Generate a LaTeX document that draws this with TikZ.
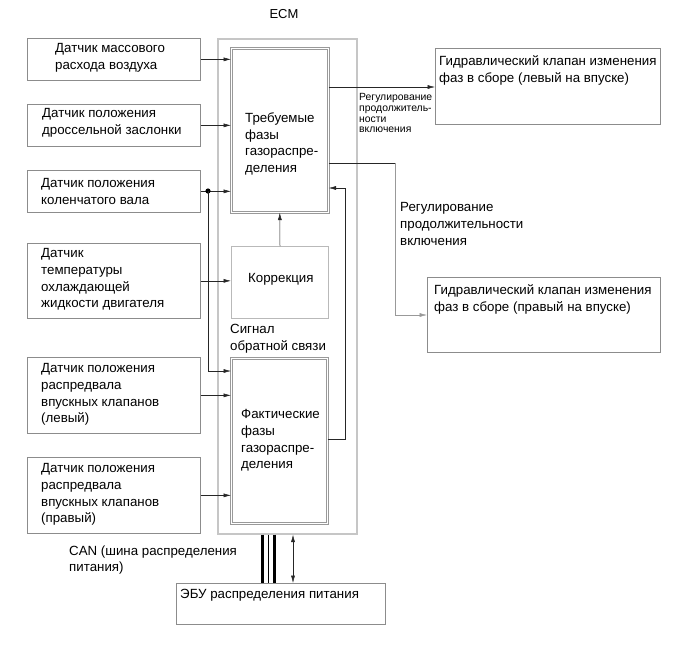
\documentclass[tikz,border=0pt]{standalone}
\usepackage{fontspec}
\setmainfont{Liberation Sans}
\usetikzlibrary{arrows.meta}
\begin{document}
\begin{tikzpicture}[x=1pt,y=-1pt,
  box/.style={draw=gray!90, line width=0.7pt, anchor=north west, inner sep=0pt},
  dbox/.style={draw=gray!80, double=white, double distance=1.3pt, line width=0.6pt, anchor=north west, inner sep=0pt},
  lbox/.style={draw=gray!55, line width=1pt, anchor=north west, inner sep=0pt},
  ecmbox/.style={draw=gray!45, line width=1.6pt, anchor=north west, inner sep=0pt},
  txt/.style={anchor=north west, align=left, inner sep=0pt, font=\fontsize{13.3}{16.6}\selectfont},
  stxt/.style={anchor=north west, align=left, inner sep=0pt, font=\fontsize{10.4}{10.6}\selectfont},
  arr/.style={draw=black!85, line width=0.5pt, -{Latex[length=7.5pt,width=4pt]}},
  ln/.style={draw=black!85, line width=0.5pt},
]
\useasboundingbox (0,0) rectangle (690,659);

% ECM
\node[font=\fontsize{13}{15}\selectfont, inner sep=0pt] (ecmlabel) at (284,14) {ECM};
\node[ecmbox, minimum width=139, minimum height=495] (ecm) at (217,38) {};

% inner blocks
\node[dbox, minimum width=97, minimum height=164] (req) at (231,48) {};
\node[txt] (reqt) at (245,112.5) {Требуемые\\фазы\\газораспре-\\деления};
\node[lbox, minimum width=97, minimum height=72] (corr) at (231,246) {};
\node[txt] (corrt) at (248,273.5) {Коррекция};
\node[txt] (sigt) at (230,324.5) {Сигнал\\обратной связи};
\node[dbox, minimum width=96, minimum height=165] (act) at (231,358) {};
\node[txt] (actt) at (241,409.5) {Фактические\\фазы\\газораспре-\\деления};

% sensors
\node[box, minimum width=173, minimum height=42] (s1) at (27,38) {};
\node[txt] (s1t) at (55,43.5) {Датчик массового\\расхода воздуха};
\node[box, minimum width=173, minimum height=42] (s2) at (27,104) {};
\node[txt] (s2t) at (42,108.5) {Датчик положения\\дроссельной заслонки};
\node[box, minimum width=173, minimum height=42] (s3) at (27,170) {};
\node[txt] (s3t) at (41,178.5) {Датчик положения\\коленчатого вала};
\node[box, minimum width=173, minimum height=75] (s4) at (27,243) {};
\node[txt] (s4t) at (41,248.5) {Датчик\\температуры\\охлаждающей\\жидкости двигателя};
\node[box, minimum width=173, minimum height=76] (s5) at (27,357) {};
\node[txt] (s5t) at (41,363.5) {Датчик положения\\распредвала\\впускных клапанов\\(левый)};
\node[box, minimum width=173, minimum height=76] (s6) at (27,457) {};
\node[txt] (s6t) at (41,463.5) {Датчик положения\\распредвала\\впускных клапанов\\(правый)};

% valves
\node[box, minimum width=225, minimum height=76] (v1) at (435,48) {};
\node[txt] (v1t) at (439,55.5) {Гидравлический клапан изменения\\фаз в сборе (левый на впуске)};
\node[box, minimum width=233, minimum height=75] (v2) at (427,277) {};
\node[txt] (v2t) at (434,284.5) {Гидравлический клапан изменения\\фаз в сборе (правый на впуске)};

\node[stxt] (l1) at (359,93.5) {Регулирование\\продолжитель-\\ности\\включения};
\node[txt] (l2) at (400,202.5) {Регулирование\\продолжительности\\включения};

% EBU
\node[box, minimum width=209, minimum height=41] (ebu) at (176,583) {};
\node[txt] (ebut) at (180,589.5) {ЭБУ распределения питания};
\node[txt] (cant) at (69,545.5) {CAN (шина распределения\\питания)};

% connectors
\draw[arr] (s1.east) -- (s1.east -| req.west);
\draw[arr] (s2.east) -- (s2.east -| req.west);
\coordinate (j) at (208,191);
\draw[arr] (s3.east) -- (s3.east -| req.west);
\fill[black] (j) circle (2.6pt);
\coordinate (jb) at (208,371);
\draw[arr] (j) -- (jb) -- (jb -| act.west);
\draw[arr] (s4.east) -- (s4.east -| corr.west);
\draw[arr] (s5.east) -- (s5.east -| act.west);
\draw[arr] (s6.east) -- (s6.east -| act.west);
\draw[arr] (corr.north) -- (req.south);

\coordinate (fb1) at (345,439);
\coordinate (fb2) at (345,188);
\draw[arr] (act.east |- fb1) -- (fb1) -- (fb2) -- (fb2 -| req.east);

\coordinate (o1) at (340,87);
\draw[arr] (o1 -| req.east) -- (o1 -| v1.west);
\coordinate (o2a) at (395,163);
\coordinate (o2b) at (395,315);
\draw[ln] (o2a -| req.east) -- (o2a);
\draw[arr, draw=gray!80] (o2a) -- (o2b) -- (o2b -| v2.west);

% CAN bus
\coordinate (c1) at (262.5,560);
\coordinate (c2) at (268,560);
\coordinate (c3) at (274.5,560);
\draw[line width=3pt] (c1 |- ecm.south) -- (c1 |- ebu.north);
\draw[line width=0.8pt] (c2 |- ecm.south) -- (c2 |- ebu.north);
\draw[line width=3pt] (c3 |- ecm.south) -- (c3 |- ebu.north);
\coordinate (d1) at (293,560);
\draw[draw=black!85, line width=0.5pt, {Latex[length=7.5pt,width=4pt]}-{Latex[length=7.5pt,width=4pt]}] (d1 |- ecm.south) -- (d1 |- ebu.north);
\end{tikzpicture}
\end{document}
